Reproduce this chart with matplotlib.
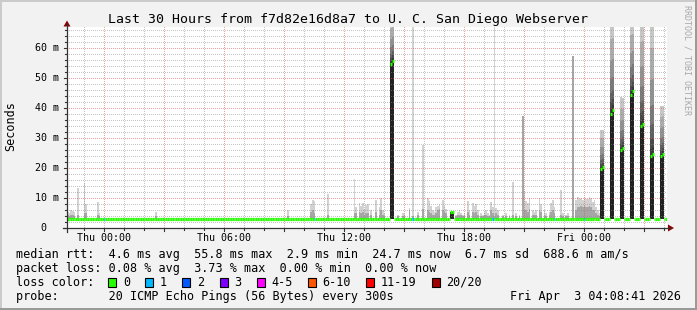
import matplotlib
matplotlib.use("Agg")
import matplotlib.pyplot as plt
from matplotlib.patches import Rectangle, Polygon
from matplotlib.lines import Line2D
import numpy as np

# ---------------- data ----------------
title = "Last 30 Hours from f7d82e16d8a7 to U. C. San Diego Webserver"
n_steps = 360                      # 5-minute steps over 30 hours
step_hours = 5 / 60
x_tick_labels = ["Thu 00:00", "Thu 06:00", "Thu 12:00", "Thu 18:00", "Fri 00:00"]
x_tick_hours = [1.8333, 7.8333, 13.8333, 19.8333, 25.8333]   # hours after window start
y_ticks = [0, 10, 20, 30, 40, 50, 60]
y_tick_labels = ["0  ", "10 m", "20 m", "30 m", "40 m", "50 m", "60 m"]

median_base = 3.1                  # ms, typical median rtt
spike_steps = [194, 320, 326, 332, 338, 344, 350, 356]
spike_med_a = [54.8, 19.6, 38.1, 25.9, 44.4, 33.9, 24.1, 23.9]
spike_med_b = [55.8, 20.2, 39.4, 26.7, 45.8, 34.7, 24.7, 24.7]
spike_top = [70.0, 32.8, 70.0, 43.5, 70.0, 70.0, 70.0, 40.8]
bump_steps = [230, 231]
bump_med = [5.5, 5.5]

smoke_steps = [0, 1, 2, 3, 4, 6, 10, 11, 18, 19, 53, 132, 146, 147, 148, 156,
               172, 173, 175, 176, 177, 178, 179, 180, 182, 185, 187, 188, 189, 190,
               198, 201, 202, 205, 207, 210, 213, 216, 217, 218, 219, 220, 221, 222,
               223, 225, 226, 227, 233, 234, 235, 236, 237, 238, 240, 241, 243, 244,
               245, 246, 248, 249, 250, 251, 252, 253, 254, 255, 256, 257, 258, 261,
               263, 265, 267, 269, 271, 273, 274, 275, 276, 277, 279, 280, 281, 283,
               284, 286, 287, 289, 290, 291, 292, 296, 297, 299, 300, 303, 305, 306,
               307, 308, 309, 310, 311, 312, 313, 314, 315, 316, 317, 318, 319]
smoke_upper = [4.2, 4.0, 4.5, 4.3, 4.0, 4.5, 5.0, 5.0, 4.5, 4.0, 4.0, 4.0, 5.5, 6.0, 5.0, 4.5,
               5.0, 5.0, 5.5, 5.0, 5.5, 4.5, 5.0, 5.0, 4.5, 5.5, 4.5, 6.0, 4.5, 4.0,
               4.0, 4.0, 4.0, 6.0, 4.0, 4.5, 6.5, 6.0, 5.5, 5.0, 4.5, 4.5, 5.0, 6.0,
               6.5, 6.0, 5.5, 5.0, 4.0, 4.5, 4.5, 4.5, 4.0, 4.0, 5.5, 4.5, 5.5, 5.0,
               5.5, 4.5, 4.0, 4.0, 4.5, 4.5, 4.0, 4.0, 6.0, 5.0, 4.0, 5.0, 4.5, 4.0,
               4.0, 4.0, 4.5, 4.0, 4.0, 37.2, 6.0, 6.0, 5.5, 6.5, 4.5, 4.5, 4.5, 6.0,
               5.5, 4.5, 4.0, 4.5, 5.5, 6.0, 5.0, 4.5, 4.0, 4.0, 4.0, 57.4, 6.0, 7.0,
               7.0, 7.5, 7.0, 7.5, 7.0, 7.0, 7.5, 7.0, 6.0, 6.0, 5.0, 4.5, 4.0]
smoke_max = [5.4, 5.0, 6.0, 5.8, 5.5, 13.5, 15.0, 8.0, 8.7, 5.0, 5.2, 6.0, 8.0, 9.4, 9.0, 11.5,
             16.4, 7.0, 8.5, 7.5, 8.2, 6.5, 7.8, 8.0, 6.0, 9.5, 7.0, 10.0, 6.0, 5.0,
             4.5, 5.0, 4.8, 6.7, 67.0, 5.5, 27.8, 10.1, 9.0, 7.5, 6.0, 5.5, 7.0, 7.5,
             8.0, 9.4, 7.5, 6.5, 4.5, 5.5, 6.0, 5.0, 4.5, 5.0, 9.0, 6.0, 8.5, 7.5,
             8.0, 6.0, 5.0, 4.5, 5.5, 6.0, 5.0, 4.5, 8.7, 7.0, 67.0, 6.8, 6.0, 4.5,
             5.0, 4.5, 15.5, 5.0, 4.5, 37.2, 12.2, 9.0, 8.4, 10.0, 6.0, 5.5, 6.0, 10.1,
             8.0, 6.0, 5.0, 5.5, 8.5, 9.2, 7.0, 12.8, 5.0, 4.5, 5.0, 57.4, 9.5, 10.4,
             9.8, 10.0, 9.2, 10.2, 9.6, 9.8, 10.4, 9.9, 8.8, 9.5, 7.0, 6.0, 5.0]

loss_steps = [22, 148, 207, 255, 292, 310]
loss_count = [1, 1, 1, 1, 1, 1]

loss_labels = ["0", "1", "2", "3", "4-5", "6-10", "11-19", "20/20"]
loss_colors = ["#26ff00", "#00b8ff", "#0059ff", "#7e00ff", "#ff00ff", "#ff5500", "#ff0000", "#a00000"]

legend_lines = [
    "median rtt:  4.6 ms avg  55.8 ms max  2.9 ms min  24.7 ms now  6.7 ms sd  688.6 m am/s",
    "packet loss: 0.08 % avg  3.73 % max  0.00 % min  0.00 % now",
]
probe_text = "probe:       20 ICMP Echo Pings (56 Bytes) every 300s"
date_text = "Fri Apr  3 04:08:41 2026"

# ---------------- layout helpers ----------------
W, H = 697, 310
MONO = "DejaVu Sans Mono"


def fx(x):
    return x / W


def fy(y):
    return 1 - y / H


fig = plt.figure(figsize=(W / 100, H / 100), dpi=100)
fig.patch.set_facecolor("#f2f2f2")

# 3D-ish frame
fig.add_artist(Rectangle((0, fy(2)), 1, 2 / H, transform=fig.transFigure, color="#cbcbcb", lw=0))
fig.add_artist(Rectangle((0, 0), 2 / W, 1, transform=fig.transFigure, color="#cbcbcb", lw=0))
fig.add_artist(Rectangle((0, 0), 1, 2.5 / H, transform=fig.transFigure, color="#9a9a9a", lw=0))
fig.add_artist(Rectangle((fx(W - 2.5), 0), 2.5 / W, 1, transform=fig.transFigure, color="#9a9a9a", lw=0))

# plot area on whole pixels: 600 x 201 px, 20 px per hour, 3 px per ms
x0, x1 = 67, 667
y_bot, y_top = 228, 27
PX_H, PX_V = x1 - x0, y_bot - y_top
y_max = PX_V / 3.0
ax = fig.add_axes([fx(x0), fy(y_bot), PX_H / W, PX_V / H])
ax.set_facecolor("white")
for s in ax.spines.values():
    s.set_visible(False)
ax.set_xticks([])
ax.set_yticks([])

# ---------------- median series ----------------
median = np.full(n_steps, median_base)
for s, a, b in zip(spike_steps, spike_med_a, spike_med_b):
    median[s] = a
    median[s + 1] = b
for s, m in zip(bump_steps, bump_med):
    median[s] = m
loss = np.zeros(n_steps, dtype=int)
for s, c in zip(loss_steps, loss_count):
    loss[s] = c

# ---------------- smoke ----------------
body_col, tail_col = "#a6a6a6", "#d2d2d2"
for s, up, mx in zip(smoke_steps, smoke_upper, smoke_max):
    h = s * step_hours
    base = median[s]
    ax.bar(h, up - base, bottom=base, width=step_hours, align="edge", color=body_col, lw=0, zorder=2)
    if mx > up:
        ax.bar(h, mx - up, bottom=up, width=step_hours, align="edge", color=tail_col, lw=0, zorder=2)

band_frac = [0, 0.05, 0.12, 0.22, 0.36, 0.55, 0.78, 1.0]
band_col = ["#383838", "#4a4a4a", "#606060", "#787878", "#919191", "#ababab", "#c6c6c6"]
for s, a, b, top in zip(spike_steps, spike_med_a, spike_med_b, spike_top):
    for k, m in enumerate((a, b)):
        h = (s + k) * step_hours
        ax.bar(h, m - median_base, bottom=median_base, width=step_hours, align="edge",
               color="#222222", lw=0, zorder=3)
        for j in range(len(band_col)):
            lo = m + (top - m) * band_frac[j]
            hi = m + (top - m) * band_frac[j + 1]
            ax.bar(h, hi - lo, bottom=lo, width=step_hours, align="edge",
                   color=band_col[j], lw=0, zorder=3)
for s, m in zip(bump_steps, bump_med):
    ax.bar(s * step_hours, m - median_base, bottom=median_base, width=step_hours, align="edge",
           color="#222222", lw=0, zorder=3)

# ---------------- pixel-exact dotted grid as an overlay image ----------------
grid = np.zeros((PX_V, PX_H, 4))
minor_rgba = (0.55, 0.55, 0.55, 0.5)
major_rgba = (0.90, 0.33, 0.33, 0.55)
rows = np.arange(PX_V)
colsx = np.arange(PX_H)
for hh in np.arange(x_tick_hours[0] - 1, 30, 1.0):
    c = int(round(hh * PX_H / 30))
    if 0 < c < PX_H:
        is_major = abs(((hh - x_tick_hours[0]) / 3) - round((hh - x_tick_hours[0]) / 3)) < 1e-6
        grid[rows[rows % 2 == 0], c] = major_rgba if is_major else minor_rgba
for v in np.arange(2, y_max, 2):
    r = PX_V - int(round(v * 3))
    if 0 <= r < PX_V:
        rgba = major_rgba if round(v) % 10 == 0 else minor_rgba
        grid[r, colsx[colsx % 2 == 0]] = rgba
ax.imshow(grid, extent=(0, 30, 0, y_max), aspect="auto", interpolation="nearest", zorder=4)
ax.set_xlim(0, 30)
ax.set_ylim(0, y_max)

# ---------------- median line coloured by loss ----------------
hs = np.arange(n_steps) * step_hours
cols = [loss_colors[min(c, 7)] for c in loss]
ax.hlines(median, hs, hs + step_hours, colors=cols, lw=2.3, zorder=5, capstyle="butt")

# ---------------- axes, arrows, ticks ----------------
axis_col = "#333333"
fig.add_artist(Line2D([fx(x0), fx(x0)], [fy(232), fy(24)], transform=fig.transFigure, color=axis_col, lw=0.9))
fig.add_artist(Line2D([fx(63), fx(670)], [fy(y_bot), fy(y_bot)], transform=fig.transFigure, color=axis_col, lw=0.9))
fig.add_artist(Polygon([(fx(x0 - 3.5), fy(26.5)), (fx(x0 + 3.5), fy(26.5)), (fx(x0), fy(20.5))],
                       closed=True, transform=fig.transFigure, color="#8b0000", lw=0))
fig.add_artist(Polygon([(fx(668), fy(y_bot - 3.5)), (fx(668), fy(y_bot + 3.5)), (fx(674), fy(y_bot))],
                       closed=True, transform=fig.transFigure, color="#8b0000", lw=0))

px_per_h = PX_H / 30
px_per_ms = 3.0
for hh in np.arange(x_tick_hours[0] - 1, 30, 1.0):
    if hh <= 0:
        continue
    xp = x0 + hh * px_per_h
    major = abs(((hh - x_tick_hours[0]) / 3) - round((hh - x_tick_hours[0]) / 3)) < 1e-6
    ln = 3 if major else 2
    fig.add_artist(Line2D([fx(xp), fx(xp)], [fy(y_bot), fy(y_bot + ln)], transform=fig.transFigure,
                          color=axis_col, lw=0.8))
for v in np.arange(0, y_max, 2):
    yp = y_bot - v * px_per_ms
    ln = 3 if round(v) % 10 == 0 else 2
    fig.add_artist(Line2D([fx(x0 - ln), fx(x0)], [fy(yp), fy(yp)], transform=fig.transFigure,
                          color=axis_col, lw=0.8))

# ---------------- texts ----------------
fig.text(fx(348), fy(19), title, ha="center", va="center", fontsize=9.5, family=MONO)
for v, lab in zip(y_ticks, y_tick_labels):
    fig.text(fx(58.8), fy(y_bot - v * px_per_ms), lab, ha="right", va="center", fontsize=7.2, family=MONO)
for hh, lab in zip(x_tick_hours, x_tick_labels):
    fig.text(fx(x0 + hh * px_per_h), fy(238), lab, ha="center", va="center", fontsize=7.2, family=MONO)
fig.text(fx(10.5), fy(126), "Seconds", rotation=90, ha="center", va="center", fontsize=8.5, family=MONO)
fig.text(fx(687.5), fy(5), "RRDTOOL / TOBI OETIKER", rotation=270, ha="center", va="top",
         fontsize=6.0, family=MONO, color="#a8a8a8")

fig.text(fx(16.5), fy(254.3), legend_lines[0], ha="left", va="center", fontsize=8.5, family=MONO)
fig.text(fx(16.5), fy(268.3), legend_lines[1], ha="left", va="center", fontsize=8.5, family=MONO)
fig.text(fx(16.5), fy(282.3), "loss color:", ha="left", va="center", fontsize=8.5, family=MONO)
bx = 108.3
for lab, col in zip(loss_labels, loss_colors):
    fig.add_artist(Rectangle((fx(bx), fy(286.8)), 8 / W, 8.5 / H, transform=fig.transFigure,
                             facecolor=col, edgecolor="black", lw=0.8))
    fig.text(fx(bx + 14.5), fy(282.3), lab, ha="left", va="center", fontsize=8.5, family=MONO)
    bx += 30 + 7.08 * len(lab)
fig.text(fx(16.5), fy(296.7), probe_text, ha="left", va="center", fontsize=8.5, family=MONO)
fig.text(fx(680.5), fy(296.7), date_text, ha="right", va="center", fontsize=8.5, family=MONO)

fig.savefig("out.png", dpi=100, facecolor=fig.get_facecolor())
